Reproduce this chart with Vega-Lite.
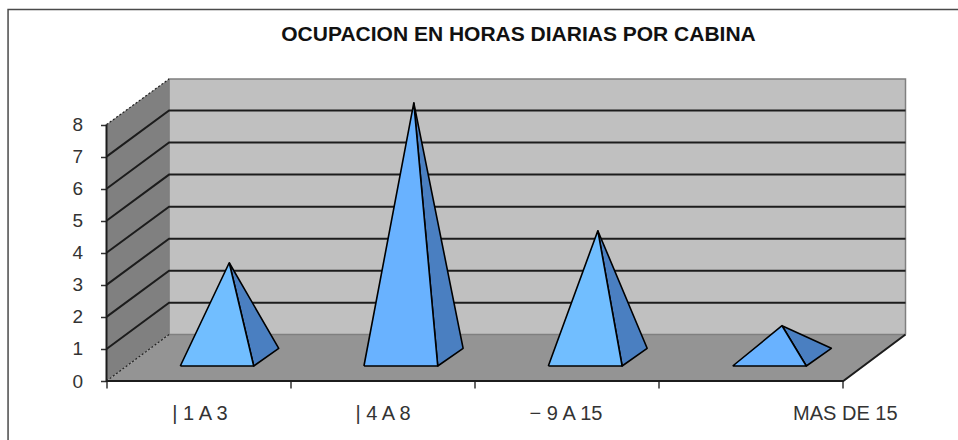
{"$schema":"https://vega.github.io/schema/vega-lite/v6.json","width":799,"height":302,"autosize":"none","padding":{"left":106.5,"right":52.5,"top":79,"bottom":59},"background":"white","view":{"stroke":null},
"title":{"text":"OCUPACION EN HORAS DIARIAS POR CABINA","anchor":"middle","frame":"group","dx":12.5,"offset":-38,"font":"Liberation Sans","fontSize":21,"fontWeight":"bold","color":"#111111"},
"datasets":{
"walls":[
{"id":"back","kind":"back","o":0,"x":0.34,"y":1.451},{"id":"back","kind":"back","o":1,"x":4.342,"y":1.451},{"id":"back","kind":"back","o":2,"x":4.342,"y":9.423},{"id":"back","kind":"back","o":3,"x":0.34,"y":9.423},{"id":"back","kind":"back","o":4,"x":0.34,"y":1.451},
{"id":"side","kind":"side","o":0,"x":0,"y":0},{"id":"side","kind":"side","o":1,"x":0,"y":8},{"id":"side","kind":"side","o":2,"x":0.34,"y":9.423},{"id":"side","kind":"side","o":3,"x":0.34,"y":1.451},{"id":"side","kind":"side","o":4,"x":0,"y":0},
{"id":"floor","kind":"floor","o":0,"x":0,"y":0},{"id":"floor","kind":"floor","o":1,"x":4.004,"y":0},{"id":"floor","kind":"floor","o":2,"x":4.342,"y":1.451},{"id":"floor","kind":"floor","o":3,"x":0.34,"y":1.451},{"id":"floor","kind":"floor","o":4,"x":0,"y":0}],
"lines":[
{"id":"g1","kind":"grid","o":0,"x":0,"y":1},{"id":"g1","kind":"grid","o":1,"x":0.34,"y":2.44},{"id":"g1","kind":"grid","o":2,"x":4.342,"y":2.44},
{"id":"g2","kind":"grid","o":0,"x":0,"y":2},{"id":"g2","kind":"grid","o":1,"x":0.34,"y":3.44},{"id":"g2","kind":"grid","o":2,"x":4.342,"y":3.44},
{"id":"g3","kind":"grid","o":0,"x":0,"y":3},{"id":"g3","kind":"grid","o":1,"x":0.34,"y":4.44},{"id":"g3","kind":"grid","o":2,"x":4.342,"y":4.44},
{"id":"g4","kind":"grid","o":0,"x":0,"y":4},{"id":"g4","kind":"grid","o":1,"x":0.34,"y":5.44},{"id":"g4","kind":"grid","o":2,"x":4.342,"y":5.44},
{"id":"g5","kind":"grid","o":0,"x":0,"y":5},{"id":"g5","kind":"grid","o":1,"x":0.34,"y":6.44},{"id":"g5","kind":"grid","o":2,"x":4.342,"y":6.44},
{"id":"g6","kind":"grid","o":0,"x":0,"y":6},{"id":"g6","kind":"grid","o":1,"x":0.34,"y":7.44},{"id":"g6","kind":"grid","o":2,"x":4.342,"y":7.44},
{"id":"g7","kind":"grid","o":0,"x":0,"y":7},{"id":"g7","kind":"grid","o":1,"x":0.34,"y":8.44},{"id":"g7","kind":"grid","o":2,"x":4.342,"y":8.44},
{"id":"axisV","kind":"grid","o":0,"x":0,"y":8},{"id":"axisV","kind":"grid","o":1,"x":0,"y":0},{"id":"axisV","kind":"grid","o":2,"x":4.004,"y":0},{"id":"axisV","kind":"grid","o":3,"x":4.342,"y":1.451}],
"outline":[
{"id":"wb","o":0,"x":0.34,"y":1.451},{"id":"wb","o":1,"x":0.34,"y":9.423},{"id":"wb","o":2,"x":4.342,"y":9.423},{"id":"wb","o":3,"x":4.342,"y":1.451},
{"id":"fb","o":0,"x":0.34,"y":1.451},{"id":"fb","o":1,"x":4.342,"y":1.451}],
"dashes":[
{"id":"d1","o":0,"x":0,"y":8},{"id":"d1","o":1,"x":0.34,"y":9.423},
{"id":"d2","o":0,"x":0,"y":0},{"id":"d2","o":1,"x":0.34,"y":1.451}],
"frame":[
{"id":"f","o":0,"x":-0.535,"y":-1.84},{"id":"f","o":1,"x":-0.535,"y":11.59},{"id":"f","o":2,"x":4.63,"y":11.59}],
"pyramids":[
{"id":"1s","kind":"pside","o":0,"x":0.667,"y":3.69},{"id":"1s","kind":"pside","o":1,"x":0.8,"y":0.468},{"id":"1s","kind":"pside","o":2,"x":0.936,"y":1.02},{"id":"1s","kind":"pside","o":3,"x":0.667,"y":3.69},
{"id":"1f","kind":"front1","o":0,"x":0.401,"y":0.468},{"id":"1f","kind":"front1","o":1,"x":0.8,"y":0.468},{"id":"1f","kind":"front1","o":2,"x":0.667,"y":3.69},{"id":"1f","kind":"front1","o":3,"x":0.401,"y":0.468},
{"id":"2s","kind":"pside","o":0,"x":1.67,"y":8.68},{"id":"2s","kind":"pside","o":1,"x":1.8,"y":0.468},{"id":"2s","kind":"pside","o":2,"x":1.938,"y":1.02},{"id":"2s","kind":"pside","o":3,"x":1.67,"y":8.68},
{"id":"2f","kind":"front2","o":0,"x":1.399,"y":0.468},{"id":"2f","kind":"front2","o":1,"x":1.8,"y":0.468},{"id":"2f","kind":"front2","o":2,"x":1.67,"y":8.68},{"id":"2f","kind":"front2","o":3,"x":1.399,"y":0.468},
{"id":"3s","kind":"pside","o":0,"x":2.67,"y":4.69},{"id":"3s","kind":"pside","o":1,"x":2.802,"y":0.468},{"id":"3s","kind":"pside","o":2,"x":2.938,"y":1.02},{"id":"3s","kind":"pside","o":3,"x":2.67,"y":4.69},
{"id":"3f","kind":"front1","o":0,"x":2.401,"y":0.468},{"id":"3f","kind":"front1","o":1,"x":2.802,"y":0.468},{"id":"3f","kind":"front1","o":2,"x":2.67,"y":4.69},{"id":"3f","kind":"front1","o":3,"x":2.401,"y":0.468},
{"id":"4s","kind":"pside","o":0,"x":3.671,"y":1.725},{"id":"4s","kind":"pside","o":1,"x":3.803,"y":0.468},{"id":"4s","kind":"pside","o":2,"x":3.939,"y":1.02},{"id":"4s","kind":"pside","o":3,"x":3.671,"y":1.725},
{"id":"4f","kind":"front2","o":0,"x":3.403,"y":0.468},{"id":"4f","kind":"front2","o":1,"x":3.803,"y":0.468},{"id":"4f","kind":"front2","o":2,"x":3.671,"y":1.725},{"id":"4f","kind":"front2","o":3,"x":3.403,"y":0.468}],
"labels":[{"x":0.508,"y":-1.03,"t":"| 1 A 3"},{"x":1.503,"y":-1.03,"t":"| 4 A 8"},{"x":2.497,"y":-1.03,"t":"− 9 A 15"},{"x":4.015,"y":-1.03,"t":"MAS DE 15"}]
},
"encoding":{
"x":{"field":"x","type":"quantitative","scale":{"domain":[0,4.342],"nice":false,"zero":false},"axis":{"title":null,"values":[0,1,2,3,4],"labels":false,"grid":false,"domain":false,"tickSize":7,"tickColor":"#333333","tickWidth":1.5}},
"y":{"field":"y","type":"quantitative","scale":{"domain":[0,9.423],"nice":false,"zero":false},"axis":{"title":null,"values":[0,1,2,3,4,5,6,7,8],"format":"d","grid":false,"domain":false,"tickSize":6,"tickColor":"#333333","tickWidth":1.5,"labelFont":"Liberation Sans","labelFontSize":19,"labelColor":"#333333","labelPadding":18}}
},
"layer":[
{"data":{"name":"walls"},"mark":{"type":"line","strokeWidth":0},"encoding":{"detail":{"field":"id"},"order":{"field":"o"},"fill":{"field":"kind","type":"nominal","legend":null,"scale":{"domain":["back","side","floor","pside","front1","front2"],"range":["#C0C0C0","#808080","#949494","#4A7FC1","#71BEFF","#69B2FF"]}}}},
{"data":{"name":"outline"},"mark":{"type":"line","stroke":"#7f7f7f","strokeWidth":1.5},"encoding":{"detail":{"field":"id"},"order":{"field":"o"}}},
{"data":{"name":"lines"},"mark":{"type":"line","stroke":"#1c1c1c","strokeWidth":2},"encoding":{"detail":{"field":"id"},"order":{"field":"o"}}},
{"data":{"name":"dashes"},"mark":{"type":"line","stroke":"#222222","strokeWidth":1.2,"strokeDash":[2,2]},"encoding":{"detail":{"field":"id"},"order":{"field":"o"}}},
{"data":{"name":"frame"},"mark":{"type":"line","stroke":"#4a4a4a","strokeWidth":1.5},"encoding":{"detail":{"field":"id"},"order":{"field":"o"}}},
{"data":{"name":"pyramids"},"mark":{"type":"line","stroke":"#000000","strokeWidth":1.6,"strokeJoin":"round"},"encoding":{"detail":{"field":"id"},"order":{"field":"o"},"fill":{"field":"kind","type":"nominal","legend":null,"scale":{"domain":["back","side","floor","pside","front1","front2"],"range":["#C0C0C0","#808080","#949494","#4A7FC1","#71BEFF","#69B2FF"]}}}},
{"data":{"name":"labels"},"mark":{"type":"text","font":"Liberation Sans","fontSize":20,"color":"#333333","baseline":"middle","align":"center"},"encoding":{"text":{"field":"t"}}}
]}
